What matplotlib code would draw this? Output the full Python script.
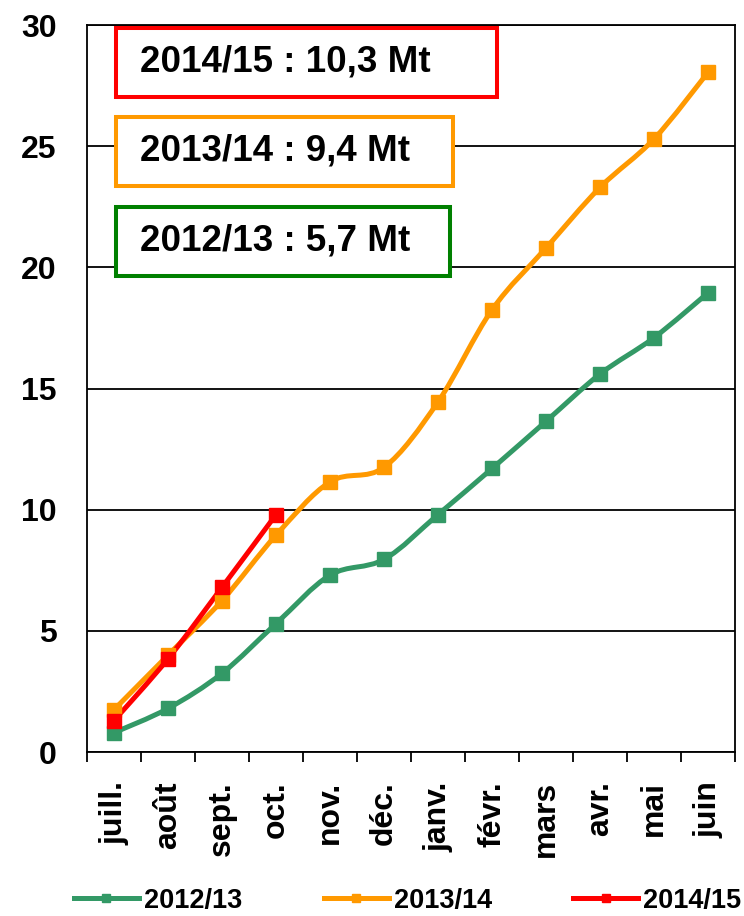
import numpy as np
import matplotlib.pyplot as plt
from matplotlib.path import Path
from matplotlib.patches import PathPatch, Rectangle
from matplotlib.lines import Line2D

plt.rcParams['font.family'] = ['Liberation Sans', 'DejaVu Sans']

# données (Mt cumulés)
mois = ['juill.', 'août', 'sept.', 'oct.', 'nov.', 'déc.',
        'janv.', 'févr.', 'mars', 'avr.', 'mai', 'juin']
v_2012 = [0.8, 1.8, 3.25, 5.3, 7.3, 7.95, 9.8, 11.7, 13.65, 15.6, 17.1, 18.95]
v_2013 = [1.75, 4.0, 6.25, 8.95, 11.15, 11.75, 14.45, 18.25, 20.8, 23.3, 25.3, 28.05]
v_2014 = [1.3, 3.85, 6.8, 9.8]

boxes = ['2014/15 : 10,3 Mt', '2013/14 : 9,4 Mt', '2012/13 : 5,7 Mt']

GREEN = '#339966'
ORANGE = '#FF9900'
RED = '#FF0000'
BOX_GREEN = '#008000'


def smooth_path(x, y):
    # courbe lissée façon Excel (Bezier / Catmull-Rom)
    pts = np.column_stack([x, y]).astype(float)
    n = len(pts)
    verts = [pts[0]]
    codes = [Path.MOVETO]
    for i in range(n - 1):
        p0 = pts[i - 1] if i > 0 else pts[i]
        p1 = pts[i]
        p2 = pts[i + 1]
        p3 = pts[i + 2] if i + 2 < n else pts[i + 1]
        verts += [p1 + (p2 - p0) / 6, p2 - (p3 - p1) / 6, p2]
        codes += [Path.CURVE4] * 3
    return Path(verts, codes)


fig = plt.figure(figsize=(7.44, 9.16), dpi=100)
ax = fig.add_axes([0.117, 0.179, 0.871, 0.7937])

series = [(v_2012, GREEN, '2012/13'), (v_2013, ORANGE, '2013/14'), (v_2014, RED, '2014/15')]
handles = []
for vals, col, lab in series:
    x = np.arange(len(vals))
    ax.add_patch(PathPatch(smooth_path(x, vals), facecolor='none', edgecolor=col,
                           lw=3.6, zorder=3, capstyle='round', joinstyle='round'))
    ax.plot(x, vals, ls='none', marker='s', ms=10, color=col, zorder=4)
    handles.append(Line2D([], [], color=col, lw=3.6, marker='s', ms=6, label=lab))

ax.set_xlim(-0.5, len(mois) - 0.5)
ax.set_ylim(0, 30)
ax.set_yticks(range(0, 31, 5))
ax.set_xticks(range(len(mois)))
ax.set_xticklabels(mois, rotation=90, fontsize=23, fontweight='bold')
ax.set_xticks(np.arange(-0.5, len(mois)), minor=True)
ax.tick_params(axis='x', which='major', length=0, pad=21)
ax.tick_params(axis='x', which='minor', length=7, width=1.3, direction='out')
ax.tick_params(axis='y', length=0, pad=22, labelsize=23)
for lbl in ax.get_yticklabels():
    lbl.set_fontweight('bold')
ax.grid(axis='y', color='black', lw=1.3, zorder=1)
for s in ax.spines.values():
    s.set_linewidth(1.3)

# encadrés
box_cols = [RED, ORANGE, BOX_GREEN]
box_x1 = [0.633, 0.565, 0.560]
box_top = [0.996, 0.8735, 0.7497]
box_h = 0.0949
for txt, col, x1, top in zip(boxes, box_cols, box_x1, box_top):
    ax.add_patch(Rectangle((0.0448, top - box_h), x1 - 0.0448, box_h,
                           transform=ax.transAxes, facecolor='white', edgecolor=col,
                           lw=2.9, zorder=5, clip_on=False))
    ax.text(0.0818, top - box_h / 2, txt, transform=ax.transAxes, fontsize=26.5,
            fontweight='bold', va='center', ha='left', zorder=6)

fig.legend(handles=handles, loc='center', bbox_to_anchor=(0.548, 0.0164), ncol=3,
           frameon=False, handlelength=2.4, handletextpad=0.19, columnspacing=3.0,
           borderpad=0, borderaxespad=0,
           prop={'weight': 'bold', 'size': 19.5})

fig.savefig('out.png', dpi=100, facecolor='white')
